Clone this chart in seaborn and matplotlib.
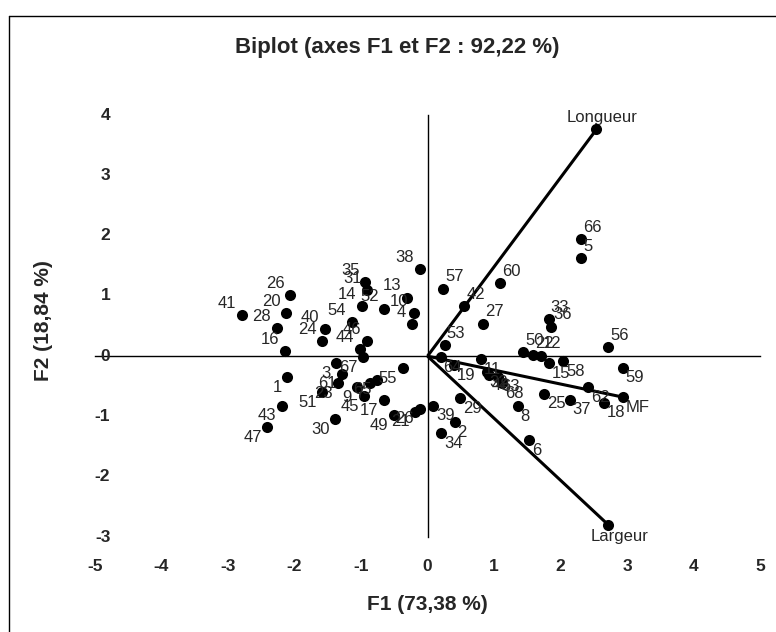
import numpy as np
import pandas as pd
import matplotlib
matplotlib.use("Agg")
import matplotlib.pyplot as plt
from matplotlib.lines import Line2D
import seaborn as sns

### DATA ###
obs_labels = ["41", "26", "20", "28", "16", "40", "24", "54", "46", "44",
              "14", "35", "31", "52", "13", "10", "4", "38",
              "3", "61", "67", "23", "9", "45", "7", "65", "55", "17", "49",
              "21", "26", "30", "1", "43", "47", "51",
              "57", "42", "60", "27", "53", "66", "5", "33", "36", "50", "22", "12", "56",
              "64", "19", "11", "32", "48", "63", "68", "8", "6", "15", "58", "25", "37",
              "62", "18", "59", "39", "2", "34", "29"]
f1 = [-2.79, -2.07, -2.13, -2.27, -2.14, -1.54, -1.58, -1.14, -0.91, -1.02,
      -0.99, -0.94, -0.91, -0.65, -0.31, -0.21, -0.24, -0.12,
      -1.37, -1.28, -0.97, -1.34, -1.06, -0.95, -0.86, -0.76, -0.37, -0.65, -0.50,
      -0.19, -0.12, -1.39, -2.11, -2.19, -2.41, -1.58,
      0.24, 0.55, 1.09, 0.84, 0.26, 2.31, 2.31, 1.82, 1.86, 1.44, 1.59, 1.70, 2.72,
      0.20, 0.40, 0.80, 0.89, 0.92, 1.06, 1.12, 1.36, 1.53, 1.82, 2.04, 1.75, 2.14,
      2.42, 2.65, 2.94, 0.09, 0.41, 0.21, 0.49]
f2 = [0.68, 1.01, 0.72, 0.46, 0.08, 0.45, 0.25, 0.57, 0.25, 0.12,
      0.83, 1.23, 1.09, 0.79, 0.97, 0.72, 0.53, 1.44,
      -0.12, -0.29, -0.02, -0.45, -0.51, -0.66, -0.45, -0.39, -0.20, -0.73, -0.98,
      -0.92, -0.87, -1.05, -0.35, -0.82, -1.18, -0.60,
      1.12, 0.83, 1.21, 0.54, 0.18, 1.94, 1.62, 0.61, 0.49, 0.07, 0.02, 0.01, 0.15,
      -0.01, -0.15, -0.05, -0.26, -0.32, -0.34, -0.45, -0.83, -1.39, -0.12, -0.08, -0.62, -0.72,
      -0.51, -0.77, -0.19, -0.82, -1.09, -1.28, -0.70]

var_labels = ["Longueur", "Largeur", "MF"]
var_f1 = [2.54, 2.72, 2.94]
var_f2 = [3.76, -2.80, -0.68]

x_ticks = [-5, -4, -3, -2, -1, 0, 1, 2, 3, 4, 5]
y_ticks = [-3, -2, -1, 0, 1, 2, 3, 4]

title = "Biplot (axes F1 et F2 : 92,22 %)"
x_title = "F1 (73,38 %)"
y_title = "F2 (18,84 %)"

### PLOT ###
sns.set_style("white")
plt.rcParams['font.family'] = ['Liberation Sans', 'DejaVu Sans']

W, H = 776, 632
fig = plt.figure(figsize=(W / 100, H / 100), dpi=100)
# axes box in pixels: x from 95 to 760, y from 115 to 537
ax = fig.add_axes([95 / W, 1 - 537 / H, 665 / W, 422 / H])

obs_df = pd.DataFrame({"F1": f1, "F2": f2, "label": obs_labels})
var_df = pd.DataFrame({"F1": var_f1, "F2": var_f2, "label": var_labels})

# variable vectors from origin
for _, r in var_df.iterrows():
    ax.plot([0, r.F1], [0, r.F2], color="black", lw=2.2, zorder=3, solid_capstyle="butt")

sns.scatterplot(data=obs_df, x="F1", y="F2", color="black", s=64, edgecolor="black",
                linewidth=0, ax=ax, zorder=4, clip_on=False)
sns.scatterplot(data=var_df, x="F1", y="F2", color="black", s=64, edgecolor="black",
                linewidth=0, ax=ax, zorder=4, clip_on=False)

# observation labels, pushed outward by quadrant
for _, r in obs_df.iterrows():
    if r.F1 < 0 and r.F2 >= 0:
        off, ha, va = (-4, 3), "right", "bottom"
    elif r.F1 < 0:
        off, ha, va = (-4, -2), "right", "top"
    elif r.F2 >= 0:
        off, ha, va = (1.5, 3), "left", "bottom"
    else:
        off, ha, va = (2, -2), "left", "top"
    ax.annotate(r.label, (r.F1, r.F2), xytext=off, textcoords="offset points",
                ha=ha, va=va, fontsize=12, zorder=5, annotation_clip=False)

# variable labels
ax.annotate("Longueur", (var_f1[0], var_f2[0]), xytext=(4, 3), textcoords="offset points",
            ha="center", va="bottom", fontsize=12, annotation_clip=False)
ax.annotate("Largeur", (var_f1[1], var_f2[1]), xytext=(8, -3), textcoords="offset points",
            ha="center", va="top", fontsize=12, annotation_clip=False)
ax.annotate("MF", (var_f1[2], var_f2[2]), xytext=(2, -2), textcoords="offset points",
            ha="left", va="top", fontsize=12, annotation_clip=False)

ax.set_xlim(-5, 5)
ax.set_ylim(-3, 4)
ax.set_xlabel("")
ax.set_ylabel("")

# axes crossing at origin, Excel style ticks
for side in ["top", "right"]:
    ax.spines[side].set_visible(False)
for side in ["left", "bottom"]:
    ax.spines[side].set_position(("data", 0))
    ax.spines[side].set_color("black")
    ax.spines[side].set_linewidth(1.0)
ax.set_xticks(x_ticks)
ax.set_yticks(y_ticks)
ax.tick_params(axis="both", direction="inout", length=7, width=1.0, color="black",
               labelbottom=False, labelleft=False)

# tick labels at the low edge of the plot area
for v in x_ticks:
    ax.annotate(str(v), (v, -3), xytext=(0, -21), textcoords="offset points",
                ha="center", va="center", fontsize=12.5, fontweight="bold",
                annotation_clip=False)
for v in y_ticks:
    ax.annotate(str(v), (-5, v), xytext=(11, 0), textcoords="offset points",
                ha="right", va="center", fontsize=12.5, fontweight="bold",
                annotation_clip=False)

ax.text(0.5, -0.161, x_title, transform=ax.transAxes, ha="center", va="center",
        fontsize=15, fontweight="bold")
ax.text(-0.078, 0.514, y_title, transform=ax.transAxes, ha="center", va="center",
        rotation=90, fontsize=15, fontweight="bold")
fig.text(397 / W, 1 - 47 / H, title, ha="center", va="center", fontsize=16, fontweight="bold")

# chart area border (top and left edges visible in the scan)
fig.add_artist(Line2D([9 / W, 1], [1 - 16 / H, 1 - 16 / H], color="black", lw=1.0))
fig.add_artist(Line2D([9 / W, 9 / W], [0, 1 - 16 / H], color="black", lw=1.0))

plt.savefig("out.png", dpi=100)
